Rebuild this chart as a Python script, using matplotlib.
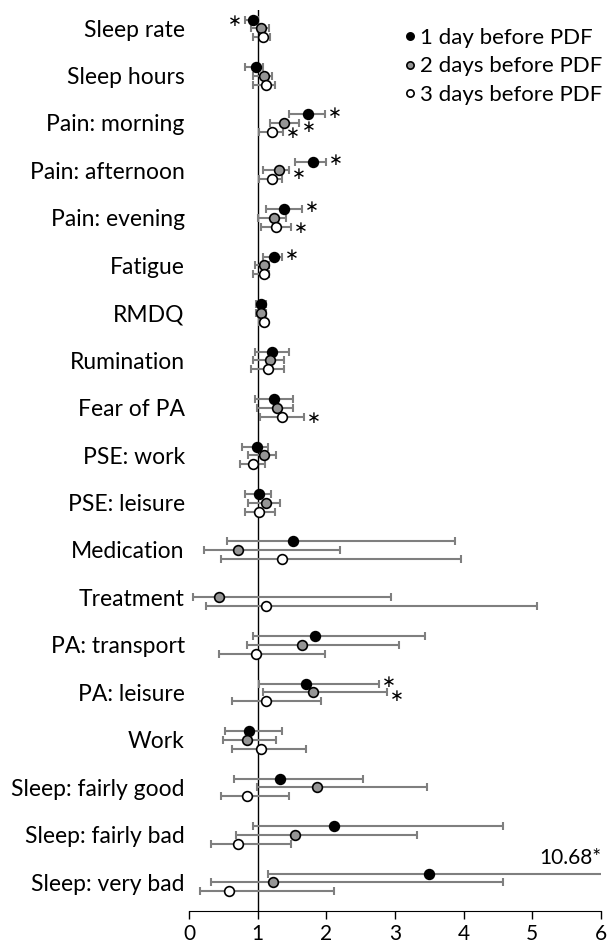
import numpy as np
import matplotlib.pyplot as plt

plt.rcParams['font.family'] = ['Lato', 'DejaVu Sans']
plt.rcParams['mathtext.fontset'] = 'dejavusans'

categories = ["Sleep rate", "Sleep hours", "Pain: morning", "Pain: afternoon",
              "Pain: evening", "Fatigue", "RMDQ", "Rumination", "Fear of PA",
              "PSE: work", "PSE: leisure", "Medication", "Treatment",
              "PA: transport", "PA: leisure", "Work", "Sleep: fairly good",
              "Sleep: fairly bad", "Sleep: very bad"]

nan = np.nan
# 1 day before PDF
or1 = [0.93, 0.97, 1.74, 1.80, 1.39, 1.24, 1.05, 1.21, 1.24, 0.99, 1.02, 1.52, nan, 1.83, 1.70, 0.87, 1.33, 2.11, 3.50]
lo1 = [0.81, 0.81, 1.46, 1.54, 1.12, 1.08, 0.98, 0.96, 0.96, 0.77, 0.81, 0.56, nan, 0.93, 1.02, 0.52, 0.66, 0.93, 1.15]
hi1 = [1.01, 1.08, 1.98, 2.00, 1.64, 1.35, 1.12, 1.46, 1.51, 1.15, 1.20, 3.87, nan, 3.44, 2.76, 1.36, 2.54, 4.58, 10.68]
sig1 = [1, 0, 1, 1, 1, 1, 0, 0, 0, 0, 0, 0, 0, 0, 1, 0, 0, 0, 1]
# 2 days before PDF
or2 = [1.05, 1.09, 1.39, 1.31, 1.24, 1.09, 1.05, 1.18, 1.28, 1.09, 1.12, 0.72, 0.44, 1.65, 1.80, 0.84, 1.86, 1.55, 1.22]
lo2 = [0.90, 0.93, 1.18, 1.08, 1.00, 0.96, 0.98, 0.93, 0.99, 0.86, 0.86, 0.22, 0.06, 0.84, 1.08, 0.49, 0.99, 0.68, 0.32]
hi2 = [1.17, 1.21, 1.60, 1.46, 1.42, 1.17, 1.12, 1.39, 1.51, 1.27, 1.33, 2.20, 2.94, 3.06, 2.88, 1.27, 3.46, 3.32, 4.58]
sig2 = [0, 0, 1, 1, 0, 0, 0, 0, 0, 0, 0, 0, 0, 0, 1, 0, 0, 0, 0]
# 3 days before PDF
or3 = [1.08, 1.12, 1.21, 1.21, 1.27, 1.09, 1.09, 1.15, 1.36, 0.93, 1.02, 1.36, 1.12, 0.97, 1.12, 1.05, 0.84, 0.72, 0.59]
lo3 = [0.93, 0.93, 1.02, 1.02, 1.05, 0.93, 1.02, 0.90, 1.03, 0.74, 0.81, 0.46, 0.25, 0.44, 0.62, 0.62, 0.46, 0.32, 0.16]
hi3 = [1.18, 1.25, 1.37, 1.35, 1.48, 1.17, 1.14, 1.39, 1.67, 1.11, 1.25, 3.96, 5.07, 1.98, 1.92, 1.70, 1.46, 1.49, 2.11]
sig3 = [0, 0, 1, 0, 1, 0, 0, 0, 1, 0, 0, 0, 0, 0, 0, 0, 0, 0, 0]

series = [("1 day before PDF", or1, lo1, hi1, sig1, "black", -0.18, -0.04),
          ("2 days before PDF", or2, lo2, hi2, sig2, "#959595", 0.0, 0.08),
          ("3 days before PDF", or3, lo3, hi3, sig3, "white", 0.19, 0.03)]

xmax = 6
fig = plt.figure(figsize=(6.11, 9.46), dpi=100)
ax = fig.add_axes([0.3093, 0.037, 0.6743, 0.9524])

ypos = np.arange(len(categories))
for name, est, lo, hi, sig, col, off, star_dy in series:
    est = np.array(est)
    lo = np.array(lo)
    hi = np.array(hi)
    y = ypos + off
    ax.errorbar(est, y, xerr=[est - lo, hi - est], fmt="none", ecolor="#7f7f7f",
                elinewidth=1.5, capsize=2.6, capthick=1.5, zorder=2)
    ax.plot(est, y, "o", color=col, markeredgecolor="black", markeredgewidth=1.2,
            markersize=7, label=name, zorder=3, linestyle="none")
    for i in range(len(categories)):
        if not sig[i]:
            continue
        if hi[i] > xmax:
            ax.text(xmax, y[i] - 0.12, "%.2f*" % hi[i], ha="right", va="bottom", fontsize=15)
        elif est[i] < 1:
            ax.text(lo[i] - 0.06, y[i] + 0.03, r"$\ast$", ha="right", va="center", fontsize=12)
        else:
            ax.text(hi[i] + 0.03, y[i] + star_dy, r"$\ast$", ha="left", va="center", fontsize=12)

ax.axvline(1, color="black", linewidth=1, zorder=1)
ax.set_xlim(0, xmax)
ax.set_ylim(len(categories) - 1 + 0.61, -0.38)
ax.set_xticks(range(0, 7))
ax.set_yticks(ypos)
ax.set_yticklabels(categories)
ax.tick_params(axis="y", length=0, pad=3, labelsize=16.5)
ax.tick_params(axis="x", direction="out", length=6, width=1, labelsize=15)
for s in ["left", "right", "top"]:
    ax.spines[s].set_visible(False)

ax.legend(loc="upper right", frameon=False, fontsize=16, handletextpad=0.05,
          handlelength=0.8, markerscale=0.75, borderaxespad=0.0, labelspacing=0.38,
          bbox_to_anchor=(1.025, 0.99))

plt.savefig("out.png", dpi=100)
